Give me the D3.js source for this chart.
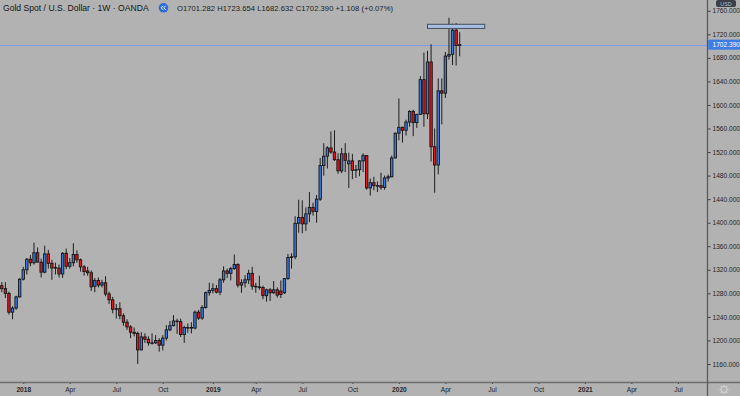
<!DOCTYPE html>
<html>
<head>
<meta charset="utf-8">
<script src="https://cdn.jsdelivr.net/npm/d3@7"></script>
<style>
  body { margin: 0; background: #b2b2b2; }
  svg { display: block; font-family: "Liberation Sans", Arial, sans-serif; }
</style>
</head>
<body>
<svg id="chart"></svg>
<script>
// weekly bars, first one is the week of 20 Nov 2017
var firstWeek = Date.UTC(2017, 10, 20);

var opens = [
  1293, 1288, 1280, 1248, 1255, 1274, 1304, 1320, 1338, 1332,
  1349, 1333, 1316, 1347, 1331, 1323, 1323, 1313, 1348, 1326,
  1332, 1346, 1337, 1325, 1318, 1315, 1292, 1302, 1294, 1298,
  1279, 1269, 1253, 1254, 1242, 1231, 1223, 1214, 1212, 1184,
  1206, 1202, 1196, 1196, 1200, 1192, 1204, 1218, 1225, 1233,
  1232, 1210, 1222, 1222, 1221, 1248, 1238, 1256, 1281, 1285,
  1288, 1282, 1303, 1318, 1314, 1322, 1329, 1294, 1298, 1303,
  1314, 1292, 1291, 1290, 1276, 1286, 1281, 1286, 1284, 1281,
  1305, 1341, 1342, 1399, 1409, 1398, 1415, 1426, 1419, 1440,
  1497, 1513, 1527, 1520, 1507, 1488, 1517, 1500, 1505, 1489,
  1490, 1505, 1514, 1459, 1468, 1463, 1463, 1460, 1476, 1478,
  1510, 1552, 1562, 1557, 1571, 1589, 1570, 1584, 1643, 1585,
  1673, 1529, 1498, 1624, 1620, 1683, 1686, 1727, 1701.282
];
var highs = [
  1299, 1299, 1283, 1258, 1276, 1306, 1325, 1340, 1345, 1366,
  1358, 1339, 1361, 1354, 1337, 1332, 1329, 1350, 1356, 1340,
  1365, 1353, 1339, 1328, 1325, 1319, 1306, 1307, 1303, 1309,
  1283, 1274, 1262, 1265, 1246, 1236, 1226, 1222, 1215, 1214,
  1212, 1207, 1212, 1209, 1204, 1209, 1226, 1233, 1243, 1237,
  1237, 1225, 1229, 1231, 1251, 1252, 1260, 1283, 1298, 1297,
  1294, 1306, 1326, 1322, 1325, 1346, 1331, 1304, 1311, 1320,
  1325, 1298, 1310, 1293, 1288, 1289, 1301, 1290, 1302, 1306,
  1347, 1348, 1411, 1439, 1438, 1426, 1452, 1434, 1447, 1510,
  1535, 1530, 1555, 1557, 1518, 1527, 1535, 1519, 1517, 1498,
  1506, 1518, 1515, 1475, 1478, 1470, 1485, 1480, 1482, 1514,
  1553, 1611, 1563, 1575, 1591, 1592, 1585, 1649, 1689, 1692,
  1703, 1560, 1645, 1645, 1690, 1748, 1738, 1739, 1723.654
];
var lows = [
  1282, 1272, 1244, 1236, 1252, 1273, 1302, 1312, 1326, 1329,
  1333, 1307, 1314, 1322, 1303, 1312, 1307, 1306, 1321, 1322,
  1326, 1332, 1317, 1310, 1310, 1284, 1282, 1290, 1290, 1275,
  1262, 1246, 1237, 1236, 1225, 1218, 1204, 1207, 1160, 1183,
  1196, 1191, 1193, 1194, 1181, 1183, 1200, 1216, 1224, 1211,
  1206, 1196, 1213, 1212, 1219, 1235, 1235, 1254, 1276, 1280,
  1280, 1277, 1298, 1306, 1302, 1320, 1290, 1281, 1290, 1296,
  1286, 1281, 1286, 1270, 1266, 1267, 1279, 1273, 1272, 1279,
  1303, 1322, 1338, 1383, 1382, 1386, 1401, 1412, 1400, 1437,
  1480, 1492, 1517, 1505, 1483, 1484, 1486, 1459, 1474, 1476,
  1479, 1486, 1456, 1446, 1455, 1452, 1456, 1456, 1470, 1477,
  1509, 1540, 1536, 1548, 1563, 1547, 1561, 1583, 1563, 1576,
  1504, 1451, 1482, 1567, 1612, 1677, 1668, 1667, 1682.632
];
var closes = [
  1288, 1280, 1248, 1255, 1274, 1304, 1320, 1338, 1332, 1349,
  1333, 1316, 1347, 1331, 1323, 1324, 1313, 1348, 1326, 1332,
  1346, 1337, 1325, 1317, 1315, 1291, 1302, 1294, 1298, 1279,
  1269, 1253, 1254, 1242, 1231, 1223, 1214, 1212, 1184, 1206,
  1202, 1196, 1196, 1200, 1192, 1204, 1218, 1225, 1233, 1232,
  1210, 1222, 1222, 1221, 1248, 1238, 1256, 1281, 1285, 1288,
  1282, 1303, 1318, 1314, 1322, 1329, 1294, 1298, 1303, 1314,
  1292, 1291, 1290, 1276, 1286, 1281, 1286, 1277, 1278, 1305,
  1341, 1342, 1399, 1409, 1398, 1415, 1426, 1419, 1440, 1497,
  1513, 1527, 1520, 1507, 1488, 1517, 1506, 1505, 1489, 1490,
  1505, 1514, 1459, 1468, 1463, 1463, 1460, 1476, 1478, 1510,
  1552, 1562, 1557, 1571, 1589, 1570, 1584, 1643, 1585, 1673,
  1529, 1498, 1624, 1620, 1683, 1686, 1727, 1701, 1702.39
];

var priceTicks = [1160, 1200, 1240, 1280, 1320, 1360, 1400, 1440, 1480,
  1520, 1560, 1600, 1640, 1680, 1720, 1760];
// first weekly bar of each labelled month
var timeTickDates = ["2018-01-01", "2018-04-02", "2018-07-02", "2018-10-01",
  "2019-01-07", "2019-04-01", "2019-07-01", "2019-10-07",
  "2020-01-06", "2020-04-06", "2020-07-06", "2020-10-05",
  "2021-01-04", "2021-04-05", "2021-07-05"];
var timeTickLabels = ["2018", "Apr", "Jul", "Oct", "2019", "Apr", "Jul", "Oct",
  "2020", "Apr", "Jul", "Oct", "2021", "Apr", "Jul"];

var lastPrice = 1702.39;
var prevClose = 1701.282;
// rectangle drawn on the chart (week index range, price range)
var boxWeeks = [119, 135];
var boxPrices = [1730, 1737];

var W = 740, H = 396;
var plotRight = 707.5, plotBottom = 382;

var svg = d3.select("#chart").attr("width", W).attr("height", H);

svg.append("rect").attr("width", W).attr("height", H).attr("fill", "#b2b2b2");

var bars = opens.map(function(o, i) {
  return { i: i, o: o, h: highs[i], l: lows[i], c: closes[i] };
});

function weekIndex(s) {
  var p = s.split("-");
  return Math.round((Date.UTC(+p[0], +p[1] - 1, +p[2]) - firstWeek) / (7 * 864e5));
}

var x = d3.scaleLinear().domain([0, 163]).range([1.8, 584.9]);
var y = d3.scaleLinear().domain([1160, 1720]).range([364, 34.3]);

svg.append("clipPath").attr("id", "plot")
  .append("rect").attr("x", 0).attr("y", 0).attr("width", plotRight).attr("height", plotBottom);

var g = svg.append("g").attr("clip-path", "url(#plot)");

// last price line
g.append("line")
  .attr("x1", 0).attr("x2", plotRight)
  .attr("y1", Math.round(y(lastPrice)) + 0.5).attr("y2", Math.round(y(lastPrice)) + 0.5)
  .attr("stroke", "#7d9ee2").attr("stroke-width", 1);

// wicks
g.selectAll(".wick")
  .data(bars)
  .enter()
  .append("line")
  .attr("class", "wick")
  .attr("x1", function(d) { return x(d.i); })
  .attr("x2", function(d) { return x(d.i); })
  .attr("y1", function(d) { return y(d.h); })
  .attr("y2", function(d) { return y(d.l); })
  .attr("stroke", "#1e1e1e")
  .attr("stroke-width", 1);

// bodies
g.selectAll(".body")
  .data(bars)
  .enter()
  .append("rect")
  .attr("class", "body")
  .attr("x", function(d) { return x(d.i) - 1.2; })
  .attr("width", 2.4)
  .attr("y", function(d) { return y(Math.max(d.o, d.c)); })
  .attr("height", function(d) { return Math.max(0.6, Math.abs(y(d.o) - y(d.c))); })
  .attr("fill", function(d) { return d.c >= d.o ? "#3b78dd" : "#e8141c"; })
  .attr("stroke", "#141414")
  .attr("stroke-width", 0.9);

// drawn rectangle
g.append("rect")
  .attr("x", x(boxWeeks[0]))
  .attr("y", y(boxPrices[1]))
  .attr("width", x(boxWeeks[1]) - x(boxWeeks[0]))
  .attr("height", y(boxPrices[0]) - y(boxPrices[1]))
  .attr("fill", "#a9bfe4")
  .attr("stroke", "#44505e")
  .attr("stroke-width", 1);

// right price axis
var yAxis = svg.append("g")
  .attr("transform", "translate(" + plotRight + ",0)")
  .call(d3.axisRight(y).tickValues(priceTicks).tickFormat(d3.format(".3f")).tickSize(3).tickPadding(2));
yAxis.select(".domain").remove();
yAxis.selectAll("line").attr("stroke", "#3a3a3a");
yAxis.selectAll("text")
  .attr("fill", "#262626")
  .style("font-size", "6.6px");

// bottom time axis
var xAxis = svg.append("g")
  .attr("transform", "translate(0," + plotBottom + ")")
  .call(d3.axisBottom(x)
    .tickValues(timeTickDates.map(weekIndex))
    .tickFormat(function(d, i) { return timeTickLabels[i]; })
    .tickSize(2).tickPadding(3));
xAxis.select(".domain").remove();
xAxis.selectAll("line").attr("stroke", "#3a3a3a");
xAxis.selectAll("text")
  .attr("fill", "#262626")
  .style("font-size", "6.6px")
  .style("font-weight", function(d, i) { return /^\d/.test(timeTickLabels[i]) ? "bold" : "normal"; });

// axis borders
svg.append("line")
  .attr("x1", 0).attr("x2", W).attr("y1", plotBottom + 0.5).attr("y2", plotBottom + 0.5)
  .attr("stroke", "#6e6e6e").attr("stroke-width", 1.3);
svg.append("line")
  .attr("x1", plotRight).attr("x2", plotRight).attr("y1", 0).attr("y2", H)
  .attr("stroke", "#5a5a5a").attr("stroke-width", 1.3);

// last price label
svg.append("rect")
  .attr("x", plotRight + 0.7).attr("y", y(lastPrice) - 5)
  .attr("width", W - plotRight).attr("height", 10)
  .attr("fill", "#3d7de3");
svg.append("text")
  .attr("x", plotRight + 5).attr("y", y(lastPrice) + 2.4)
  .attr("fill", "#ffffff")
  .style("font-size", "6.6px")
  .text(d3.format(".3f")(lastPrice));

// currency badge (kept above the top tick label)
svg.append("rect")
  .attr("x", 716).attr("y", 0).attr("width", 20).attr("height", 7).attr("rx", 2)
  .attr("fill", "#3b3f46");
svg.append("text")
  .attr("x", 726).attr("y", 5.6)
  .attr("text-anchor", "middle")
  .attr("fill", "#b9bec8")
  .style("font-size", "5.4px")
  .text("USD");

// settings gear
var gear = svg.append("g").attr("transform", "translate(724,389.5)");
gear.append("circle").attr("r", 3).attr("fill", "none").attr("stroke", "#d6d6d6").attr("stroke-width", 1);
d3.range(8).forEach(function(k) {
  var a = k * Math.PI / 4;
  gear.append("line")
    .attr("x1", Math.cos(a) * 3).attr("y1", Math.sin(a) * 3)
    .attr("x2", Math.cos(a) * 4.6).attr("y2", Math.sin(a) * 4.6)
    .attr("stroke", "#d6d6d6").attr("stroke-width", 1.1);
});

// header
svg.append("text")
  .attr("x", 3).attr("y", 11)
  .attr("fill", "#141414")
  .style("font-size", "8.6px")
  .text("Gold Spot / U.S. Dollar \u00b7 1W \u00b7 OANDA");

var icon = svg.append("g").attr("transform", "translate(163.5,7.8)");
icon.append("circle").attr("r", 4.8).attr("fill", "#2a6edb");
icon.append("path")
  .attr("d", "M-0.4,-2 L-2.4,0 L-0.4,2 M2.2,-2 L0.2,0 L2.2,2")
  .attr("fill", "none").attr("stroke", "#ffffff").attr("stroke-width", 1);

var last = bars[bars.length - 1];
var change = last.c - prevClose;
var f3 = d3.format(".3f");
svg.append("text")
  .attr("x", 177).attr("y", 10.8)
  .attr("fill", "#1c1c1c")
  .attr("textLength", 216)
  .attr("lengthAdjust", "spacing")
  .style("font-size", "7.6px")
  .text("O" + f3(last.o) + " H" + f3(last.h) + " L" + f3(last.l) + " C" + f3(last.c) +
        " +" + f3(change) + " (+" + d3.format(".2f")(change / prevClose * 100) + "%)");
</script>
</body>
</html>
